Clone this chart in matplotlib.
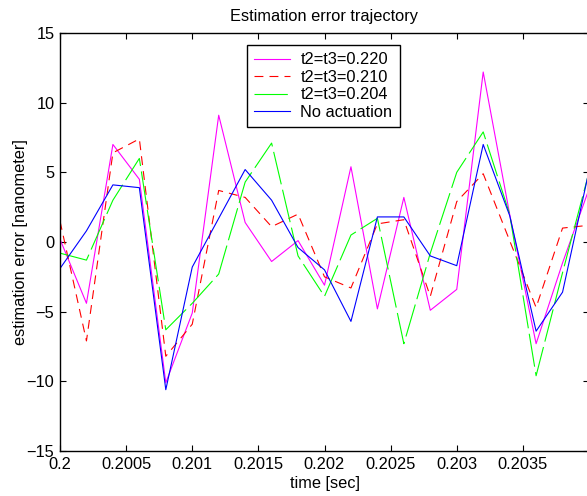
import matplotlib
matplotlib.use("Agg")
import matplotlib.pyplot as plt

plt.rcParams['font.family'] = ['Liberation Sans', 'DejaVu Sans']

# sample times [sec]
t = [0.2000, 0.2002, 0.2004, 0.2006, 0.2008, 0.2010, 0.2012, 0.2014, 0.2016, 0.2018,
     0.2020, 0.2022, 0.2024, 0.2026, 0.2028, 0.2030, 0.2032, 0.2034, 0.2036, 0.2038, 0.2040]

# estimation error [nm]
err_220 = [0.2, -4.4, 7.0, 4.5, -10.1, -5.1, 9.1, 1.4, -1.4, 0.1,
           -3.1, 5.4, -4.8, 3.2, -4.9, -3.4, 12.2, 2.0, -7.3, -1.5, 3.8]
err_210 = [1.5, -7.1, 6.4, 7.4, -8.2, -5.9, 3.7, 3.2, 1.1, 2.0,
           -2.5, -3.3, 1.3, 1.6, -3.9, 2.9, 4.9, 0.1, -4.7, 1.0, 1.2]
err_204 = [-0.8, -1.3, 3.0, 6.0, -6.3, -4.4, -2.3, 4.3, 7.1, -1.0,
           -3.9, 0.5, 1.7, -7.3, -0.8, 5.0, 7.9, 2.0, -9.6, -2.2, 5.0]
err_none = [-1.9, 0.8, 4.1, 3.9, -10.6, -1.8, 1.7, 5.2, 3.0, -0.4,
            -2.0, -5.7, 1.8, 1.8, -1.0, -1.7, 7.0, 1.9, -6.4, -3.6, 5.1]

labels = ['t2=t3=0.220', 't2=t3=0.210', 't2=t3=0.204', 'No actuation']
xticks = [0.2, 0.2005, 0.201, 0.2015, 0.202, 0.2025, 0.203, 0.2035]
xticklabels = ['0.2', '0.2005', '0.201', '0.2015', '0.202', '0.2025', '0.203', '0.2035']
yticks = [-15, -10, -5, 0, 5, 10, 15]

fig = plt.figure(figsize=(5.87, 4.96), dpi=100)
# right edge of the box runs just past the figure border
ax = fig.add_axes([60 / 587, 1 - 451 / 496, 529 / 587, 418 / 496])

lw = 0.8
ax.plot(t, err_220, color='#ff00ff', lw=lw, label=labels[0])
ax.plot(t, err_210, color='#ff0000', lw=lw, linestyle=(0, (8, 5.5)), label=labels[1])
ax.plot(t, err_204, color='#00ff00', lw=lw, linestyle=(0, (30, 5)), label=labels[2])
ax.plot(t, err_none, color='#0000ff', lw=lw, label=labels[3])

ax.set_xlim(0.2, 0.204)
ax.set_ylim(-15, 15)
ax.set_xticks(xticks)
ax.set_xticklabels(xticklabels)
ax.set_yticks(yticks)
ax.tick_params(direction='in', length=4.5, width=0.8, top=True, right=True,
               labelsize=11.8, pad=4)
for s in ax.spines.values():
    s.set_linewidth(1.0)

ax.set_title('Estimation error trajectory', fontsize=11.8, pad=9)
ax.set_xlabel('time [sec]', fontsize=11.8, labelpad=3)
ax.set_ylabel('estimation error [nanometer]', fontsize=11.8, labelpad=-1)

leg = ax.legend(loc='upper left', bbox_to_anchor=(247 / 587, 1 - 45 / 496),
                bbox_transform=fig.transFigure, borderaxespad=0, fontsize=11.8,
                fancybox=False, framealpha=1, edgecolor='black',
                handlelength=2.2, handletextpad=0.6, labelspacing=0.15,
                borderpad=0.45)
leg.get_frame().set_linewidth(1.0)

fig.savefig('out.png', dpi=100)
